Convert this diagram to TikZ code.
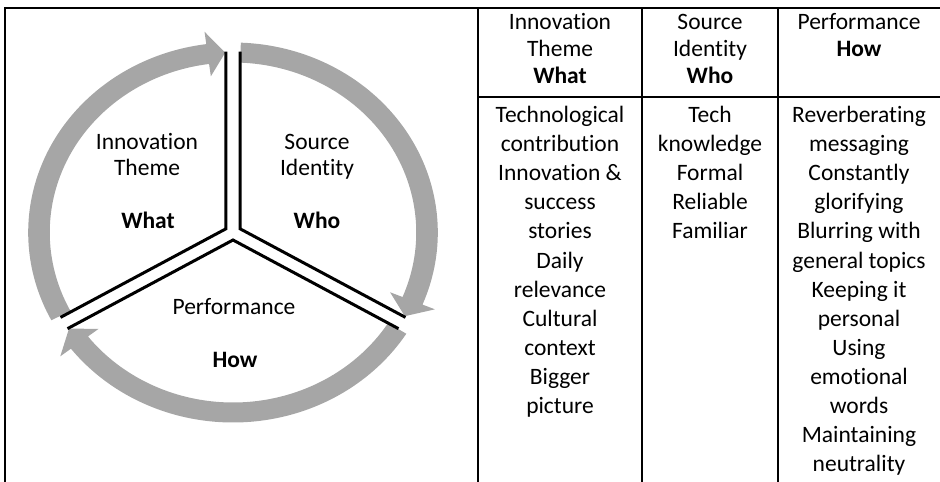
\documentclass[tikz,border=0pt]{standalone}
\usepackage{fontspec}
\setmainfont{Carlito}[Ligatures=NoCommon]
\definecolor{ringgray}{RGB}{166,166,166}
\begin{document}
\begin{tikzpicture}[x=1pt,y=-1pt,
  txt/.style={inner sep=0pt, anchor=base, font=\fontsize{23.5}{28}\selectfont},
  frameline/.style={line width=2.4pt},
  chan/.style={line width=3pt, miter limit=20},
  ring/.style={fill=ringgray}]
\useasboundingbox (0,0) rectangle (940,482);
% frame and table grid
\draw[frameline] (5,495) -- (5,8) -- (950,8);
\draw[frameline] (478,8) -- (478,495);
\draw[frameline] (642,8) -- (642,495);
\draw[frameline] (778,8) -- (778,495);
\draw[frameline] (478,97) -- (950,97);
% cycle diagram
\begin{scope}[shift={(233,232.5)}, yscale=-1, xscale=1.078]
  % top-left arc: arrow pointing to the top
  \fill[ring] (207.5:170) arc[start angle=207.5, end angle=97.5, radius=170]
    -- (97.5:157.5) -- (92.3:180) -- (97.5:202.5) -- (97.5:190)
    arc[start angle=97.5, end angle=207.5, radius=190] -- cycle;
  % right arc
  \fill[ring] (87.8:170) arc[start angle=87.8, end angle=-22.3, radius=170]
    -- (-22.3:157.5) -- (-27.7:180) -- (-22.3:202.5) -- (-22.3:190)
    arc[start angle=-22.3, end angle=87.8, radius=190] -- cycle;
  % bottom arc
  \fill[ring] (-32.2:170) arc[start angle=-32.2, end angle=-142.3, radius=170]
    -- (-142.3:157.5) -- (-147.7:180) -- (-142.3:202.5) -- (-142.3:190)
    arc[start angle=-142.3, end angle=-32.2, radius=190] -- cycle;
  % Y-shaped channel
  \draw[chan] (-6.5,181) -- (-6.5,3.75) -- (-160,-84.87);
  \draw[chan] (6.5,181) -- (6.5,3.75) -- (160,-84.87);
  \draw[chan] (-153.5,-96.13) -- (0,-7.5) -- (153.5,-96.13);
\end{scope}
% diagram labels
\node[txt] (d-in) at (147,149) {Innovation};
\node[txt] (d-th) at (147,175) {Theme};
\node[txt] (d-what) at (148,228) {\bfseries What};
\node[txt] (d-so) at (317,149) {Source};
\node[txt] (d-id) at (317,175) {Identity};
\node[txt] (d-who) at (317,228) {\bfseries Who};
\node[txt] (d-pe) at (234,314) {Performance};
\node[txt] (d-how) at (235,367) {\bfseries How};
% table header
\foreach \t [count=\i] in {Innovation, Theme, {\bfseries What}}
  \node[txt] (ha-\i) at (560,{29.5+26.8*(\i-1)}) {\t};
\foreach \t [count=\i] in {Source, Identity, {\bfseries Who}}
  \node[txt] (hb-\i) at (710,{29.5+26.8*(\i-1)}) {\t};
\foreach \t [count=\i] in {Performance, {\bfseries How}}
  \node[txt] (hc-\i) at (859,{29.5+26.8*(\i-1)}) {\t};
% table body
\foreach \t [count=\i] in {Technological, contribution, Innovation \&, success, stories, Daily, relevance, Cultural, context, Bigger, picture}
  \node[txt] (ba-\i) at (560,{122.5+29.1*(\i-1)}) {\t};
\foreach \t [count=\i] in {Tech, knowledge, Formal, Reliable, Familiar}
  \node[txt] (bb-\i) at (710,{122.5+29.1*(\i-1)}) {\t};
\foreach \t [count=\i] in {Reverberating, messaging, Constantly, glorifying, Blurring with, general topics, Keeping it, personal, Using, emotional, words, Maintaining, neutrality}
  \node[txt] (bc-\i) at (859,{122.5+29.1*(\i-1)}) {\t};
\end{tikzpicture}
\end{document}
